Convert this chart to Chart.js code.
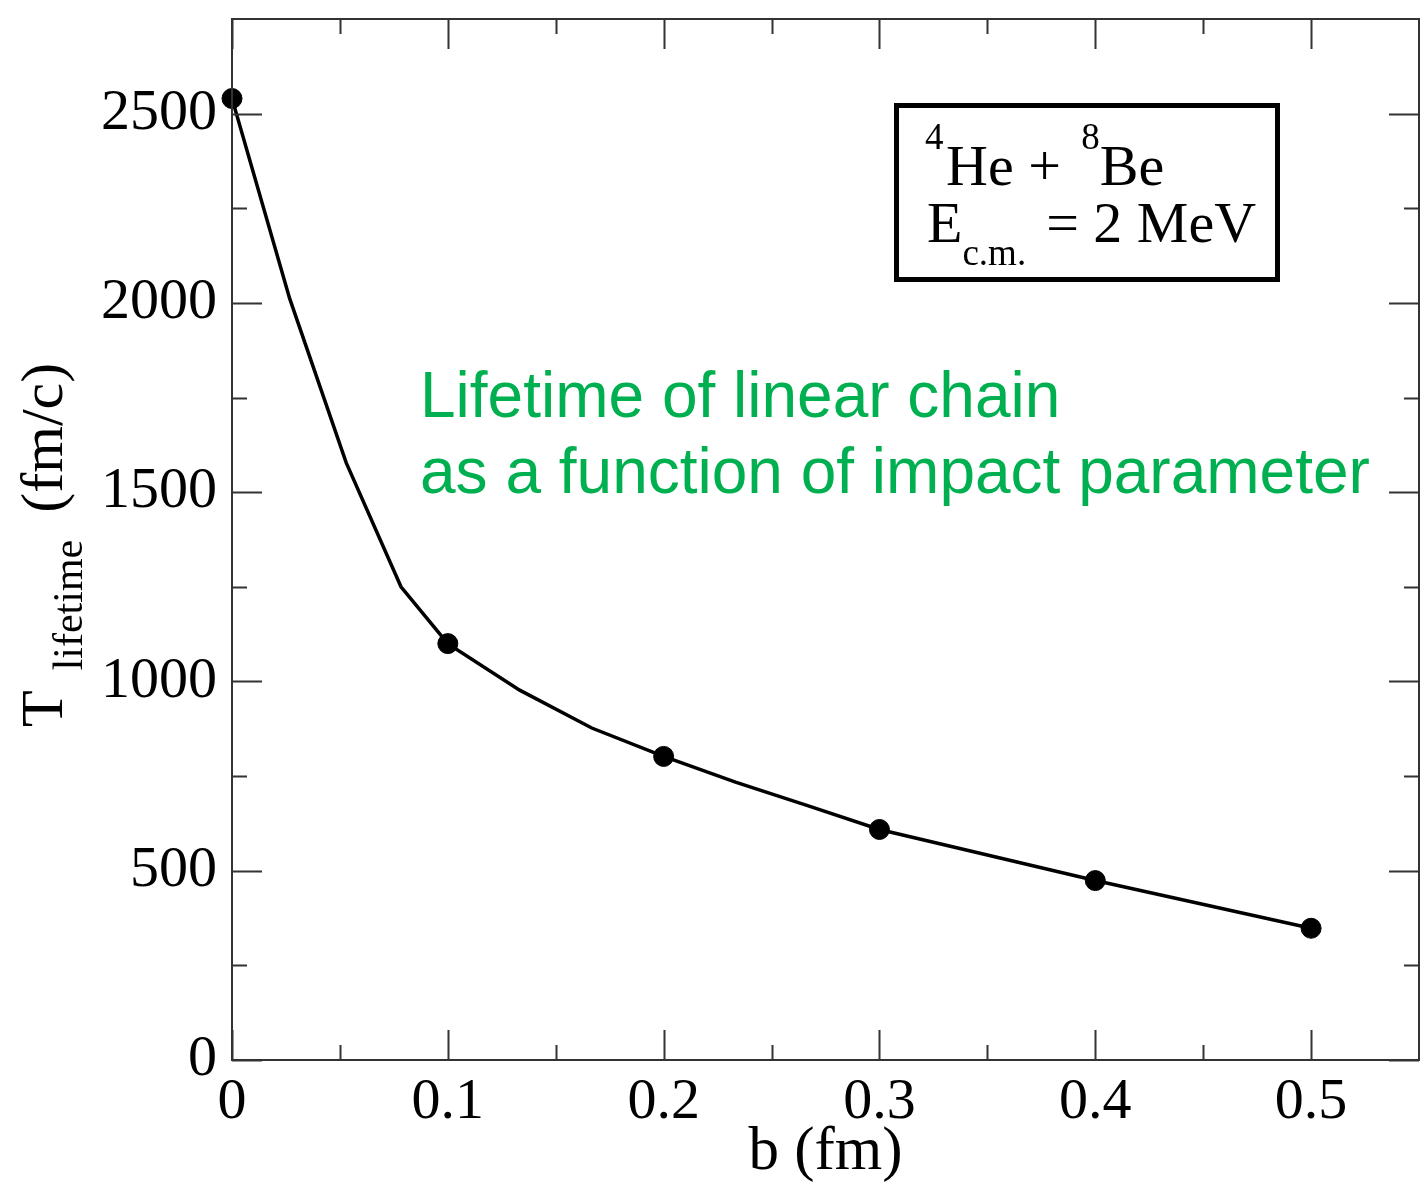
<!DOCTYPE html>
<html>
<head>
<meta charset="utf-8">
<title>Lifetime of linear chain</title>
<script src="https://cdn.jsdelivr.net/npm/chart.js@4"></script>
<style>
  html, body { margin: 0; padding: 0; background: #fff; }
  #wrap { width: 1420px; height: 1185px; }
</style>
</head>
<body>
<div id="wrap"><canvas id="chart" width="1420" height="1185"></canvas></div>
<script>
// impact parameter b (fm) and lifetime (fm/c) along the computed curve
let curveB = [0, 0.0267, 0.0529, 0.0783, 0.1, 0.1333, 0.1667, 0.2, 0.2333, 0.2667, 0.3, 0.4, 0.5];
let curveT = [2540, 2012, 1578, 1250, 1100, 977, 877, 802, 734, 672, 609, 474, 348];

// points that get a dot
let dotB = [0, 0.1, 0.2, 0.3, 0.4, 0.5];
let dotT = [2540, 1100, 802, 609, 474, 348];

// axis ticks
let xLabels = [0, 0.1, 0.2, 0.3, 0.4, 0.5];
let xMinor = [0.05, 0.15, 0.25, 0.35, 0.45];
let yLabels = [0, 500, 1000, 1500, 2000, 2500];
let yMinor = [250, 750, 1250, 1750, 2250];

const serif = '"Liberation Serif", "Times New Roman", serif';
const frameColor = '#333';

// frame on all four sides with ticks pointing inwards
const frameTicks = {
  id: 'frameTicks',
  afterDatasetsDraw(chart) {
    const ctx = chart.ctx;
    const a = chart.chartArea;
    const xs = chart.scales.x, ys = chart.scales.y;
    ctx.save();
    ctx.strokeStyle = frameColor;
    ctx.lineWidth = 2;
    ctx.strokeRect(a.left, a.top, a.right - a.left, a.bottom - a.top);
    ctx.beginPath();
    const xt = (vals, len) => vals.forEach(v => {
      const px = Math.round(xs.getPixelForValue(v)) + 0.5;
      ctx.moveTo(px, a.bottom); ctx.lineTo(px, a.bottom - len);
      ctx.moveTo(px, a.top); ctx.lineTo(px, a.top + len);
    });
    const yt = (vals, len) => vals.forEach(v => {
      const py = Math.round(ys.getPixelForValue(v)) + 0.5;
      ctx.moveTo(a.left, py); ctx.lineTo(a.left + len, py);
      ctx.moveTo(a.right, py); ctx.lineTo(a.right - len, py);
    });
    xt(xLabels, 30); xt(xMinor, 15);
    yt(yLabels, 30); yt(yMinor, 15);
    ctx.stroke();
    ctx.restore();
  },
  afterDraw(chart) {
    const ctx = chart.ctx;
    ctx.save();
    ctx.fillStyle = '#000';

    // y axis title: T_lifetime (fm/c), rotated
    ctx.translate(62, 727);
    ctx.rotate(-Math.PI / 2);
    ctx.textBaseline = 'alphabetic';
    ctx.font = '60px ' + serif;
    ctx.fillText('T', 0, 0);
    let x = ctx.measureText('T').width + 20;
    ctx.font = '42px ' + serif;
    ctx.fillText('lifetime', x, 20);
    x += ctx.measureText('lifetime').width + 27;
    ctx.font = '60px ' + serif;
    ctx.fillText('(fm/c)', x, 0);
    ctx.setTransform(1, 0, 0, 1, 0, 0);

    // reaction box
    ctx.strokeStyle = '#000';
    ctx.lineWidth = 5;
    ctx.strokeRect(896.5, 105.5, 381, 174);
    ctx.font = '37px ' + serif;
    ctx.fillText('4', 925, 149);
    ctx.font = '58px ' + serif;
    ctx.fillText('He + ', 946, 185);
    x = 946 + ctx.measureText('He + ').width + 6;
    ctx.font = '37px ' + serif;
    ctx.fillText('8', x, 149);
    x += ctx.measureText('8').width;
    ctx.font = '58px ' + serif;
    ctx.fillText('Be', x, 185);

    ctx.fillText('E', 927, 242);
    x = 927 + ctx.measureText('E').width;
    ctx.font = '37px ' + serif;
    ctx.fillText('c.m.', x, 265);
    x += ctx.measureText('c.m.').width + 20;
    ctx.font = '58px ' + serif;
    ctx.fillText('= 2 MeV', x, 242);

    // green note
    ctx.fillStyle = '#00B050';
    ctx.font = '64px "Liberation Sans", Arial, sans-serif';
    ctx.fillText('Lifetime of linear chain', 420, 417);
    ctx.fillText('as a function of impact parameter', 420, 493);
    ctx.restore();
  }
};

let ctx = document.getElementById('chart').getContext('2d');

let myChart = new Chart(ctx, {
  type: 'scatter',
  data: {
    datasets: [
      {
        label: 'curve',
        data: curveB.map((b, i) => ({ x: b, y: curveT[i] })),
        showLine: true,
        borderColor: '#000',
        borderWidth: 3.5,
        pointRadius: 0,
        tension: 0,
        fill: false
      },
      {
        label: 'points',
        data: dotB.map((b, i) => ({ x: b, y: dotT[i] })),
        showLine: false,
        clip: false,
        backgroundColor: '#000',
        borderColor: '#000',
        pointRadius: 10,
        pointHoverRadius: 10
      }
    ]
  },
  options: {
    responsive: false,
    animation: false,
    devicePixelRatio: 1,
    layout: { autoPadding: false, padding: { top: 19, right: 1, left: 0, bottom: 0 } },
    plugins: {
      legend: { display: false },
      tooltip: { enabled: false }
    },
    scales: {
      x: {
        type: 'linear',
        min: 0,
        max: 0.55,
        grid: { display: false, drawTicks: false },
        border: { display: false },
        afterBuildTicks: s => { s.ticks = xLabels.map(v => ({ value: v })); },
        afterFit: s => { s.height = 125; s.paddingLeft = 0; s.paddingRight = 0; },
        ticks: {
          color: '#000',
          padding: 8,
          maxRotation: 0,
          autoSkip: false,
          font: { family: serif, size: 58 },
          callback: v => String(v)
        },
        title: {
          display: true,
          text: 'b (fm)',
          color: '#000',
          font: { family: serif, size: 61, lineHeight: 1 },
          padding: { top: 0, bottom: 2 }
        }
      },
      y: {
        type: 'linear',
        min: 0,
        max: 2750,
        grid: { display: false, drawTicks: false },
        border: { display: false },
        afterBuildTicks: s => { s.ticks = yLabels.map(v => ({ value: v })); },
        afterFit: s => { s.width = 232; s.paddingTop = 0; s.paddingBottom = 0; },
        ticks: {
          color: '#000',
          padding: 15,
          autoSkip: false,
          font: { family: serif, size: 58 },
          callback: v => String(v)
        }
      }
    }
  },
  plugins: [frameTicks]
});
</script>
</body>
</html>
